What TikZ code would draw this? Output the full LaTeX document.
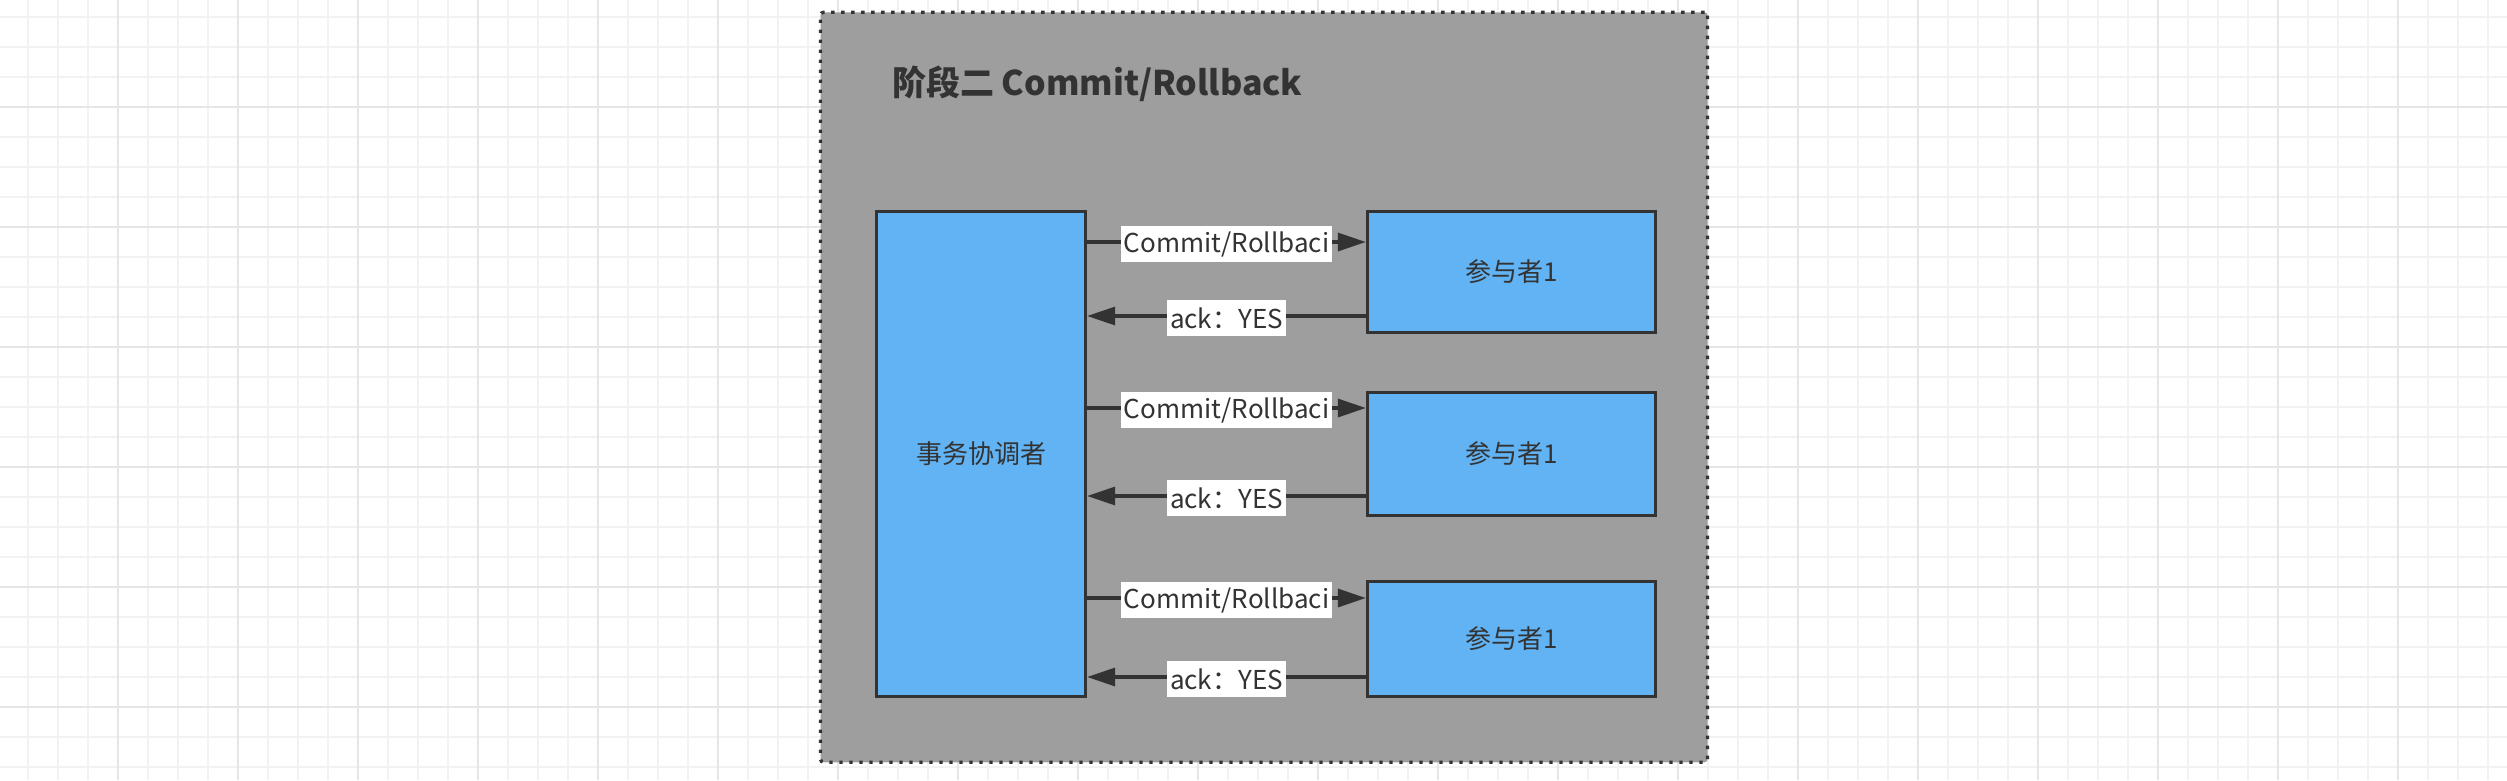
\documentclass[tikz,border=0pt]{standalone}
\usepackage{fontspec}
\setmainfont{Noto Sans CJK SC}
\usetikzlibrary{arrows.meta,calc}
\definecolor{gridminor}{HTML}{F2F2F2}
\definecolor{gridmajor}{HTML}{E6E6E6}
\definecolor{framefill}{HTML}{9E9E9E}
\definecolor{ink}{HTML}{333333}
\definecolor{boxblue}{HTML}{62B3F4}
\begin{document}
\begin{tikzpicture}[x=1pt,y=-1pt,
  minorline/.style={draw=gridminor, line width=1.5pt},
  majorline/.style={draw=gridmajor, line width=1.8pt},
  framebox/.style={draw=ink, fill=framefill, line width=3.3pt, dash pattern=on 3.3pt off 6.7pt, rounded corners=3pt, inner sep=0pt},
  box/.style={draw=ink, fill=boxblue, line width=3.3pt, inner sep=0pt, text=ink, font=\fontsize{26}{30}\selectfont},
  arr/.style={draw=ink, line width=3.3pt, -{Triangle[length=28pt,width=18pt]}},
  lbl/.style={fill=white, text=ink, font=\fontsize{26}{30}\selectfont, inner xsep=3pt, inner ysep=0pt, minimum height=36pt, yshift=-2pt},
  title/.style={text=ink, font=\fontsize{34}{40}\selectfont\bfseries, inner sep=0pt, anchor=west}]
\useasboundingbox (0,0) rectangle (2507,780);
\fill[white] (0,0) rectangle (2507,780);
% grid
\foreach \i in {0,...,82} \draw[minorline] ({28+30*\i},0) -- ({28+30*\i},780);
\foreach \j in {0,...,25} \draw[minorline] (0,{17+30*\j}) -- (2507,{17+30*\j});
\foreach \i in {0,...,19} \draw[majorline] ({118+120*\i},0) -- ({118+120*\i},780);
\foreach \j in {0,...,5} \draw[majorline] (0,{107+120*\j}) -- (2507,{107+120*\j});
% container
\node[framebox, minimum width=887pt, minimum height=750pt] (frame) at (1264,387.25) {};
\node[title] (ttl) at (892,84) {阶段二 Commit/Rollback};
% nodes
\node[box, minimum width=209pt, minimum height=485pt] (co) at (981,454) {事务协调者};
\node[box, minimum width=288pt, minimum height=121pt] (p1) at (1511.5,272) {参与者1};
\node[box, minimum width=288pt, minimum height=123pt] (p2) at (1511.5,454) {参与者1};
\node[box, minimum width=288pt, minimum height=115pt] (p3) at (1511.5,639) {参与者1};
% arrow levels
\coordinate (y1c) at (0,242);
\coordinate (y1a) at (0,316);
\coordinate (y2c) at (0,408);
\coordinate (y2a) at (0,496);
\coordinate (y3c) at (0,598);
\coordinate (y3a) at (0,677);
\draw[arr] (co.east |- y1c) -- node[lbl] (l1c) {Commit/Rollbaci} (p1.west |- y1c);
\draw[arr] (p1.west |- y1a) -- node[lbl] (l1a) {ack：YES} (co.east |- y1a);
\draw[arr] (co.east |- y2c) -- node[lbl] (l2c) {Commit/Rollbaci} (p2.west |- y2c);
\draw[arr] (p2.west |- y2a) -- node[lbl] (l2a) {ack：YES} (co.east |- y2a);
\draw[arr] (co.east |- y3c) -- node[lbl] (l3c) {Commit/Rollbaci} (p3.west |- y3c);
\draw[arr] (p3.west |- y3a) -- node[lbl] (l3a) {ack：YES} (co.east |- y3a);
\end{tikzpicture}
\end{document}
